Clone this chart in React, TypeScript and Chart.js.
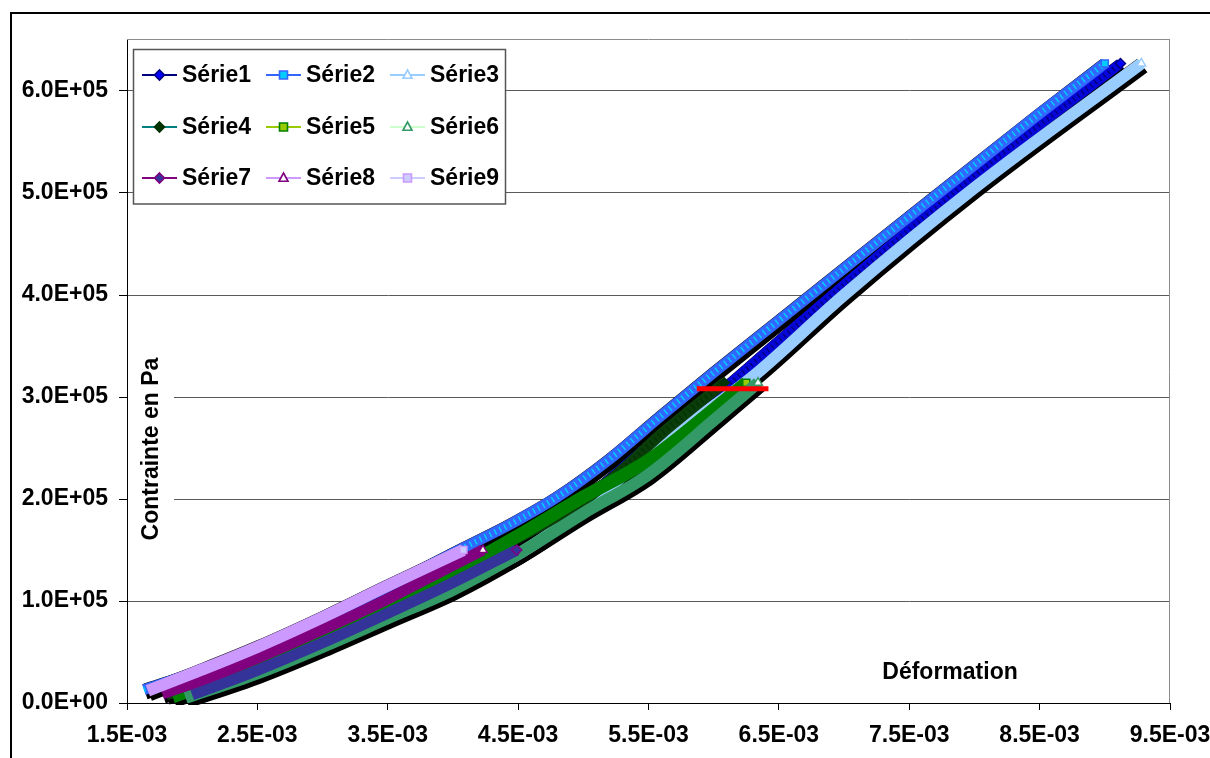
import React, { useEffect, useRef } from 'react';
import { Chart, registerables } from 'chart.js';

Chart.register(...registerables);

const FONT = '"Liberation Sans", Arial, sans-serif';

// ---------------- DATA ----------------
const seriesNames = ['Série1', 'Série2', 'Série3', 'Série4', 'Série5', 'Série6', 'Série7', 'Série8', 'Série9'];

const s1X = [1.8e-3, 2.5e-3, 3.0e-3, 3.5e-3, 4.0e-3, 4.5e-3, 5.0e-3, 5.5e-3, 6.0e-3, 6.5e-3, 7.0e-3, 8.0e-3, 9.12e-3];
const s1Y = [8e3, 4.0e4, 6.8e4, 9.8e4, 1.3e5, 1.62e5, 1.99e5, 2.52e5, 3.0e5, 3.55e5, 4.1e5, 5.17e5, 6.27e5];

const s2X = [1.63e-3, 2.0e-3, 2.5e-3, 3.0e-3, 3.5e-3, 4.08e-3, 4.45e-3, 4.8e-3, 5.2e-3, 5.6e-3, 6.0e-3, 6.5e-3, 7.5e-3, 8.5e-3, 9.0e-3];
const s2Y = [1.3e4, 2.9e4, 5.4e4, 8.3e4, 1.14e5, 1.52e5, 1.76e5, 2.02e5, 2.39e5, 2.82e5, 3.24e5, 3.75e5, 4.77e5, 5.78e5, 6.27e5];

const s3X = [1.95e-3, 2.5e-3, 3.0e-3, 3.5e-3, 4.0e-3, 4.5e-3, 5.0e-3, 5.25e-3, 5.5e-3, 5.9e-3, 6.3e-3, 7.0e-3, 8.0e-3, 9.28e-3];
const s3Y = [6e3, 3.2e4, 5.9e4, 8.7e4, 1.15e5, 1.46e5, 1.9e5, 2.17e5, 2.46e5, 2.82e5, 3.2e5, 4.0e5, 5.05e5, 6.27e5];

const s4X = [1.8e-3, 2.5e-3, 3.0e-3, 3.5e-3, 4.0e-3, 4.5e-3, 5.0e-3, 5.3e-3, 5.6e-3, 6.08e-3];
const s4Y = [8e3, 3.7e4, 6.5e4, 9.5e4, 1.29e5, 1.62e5, 1.98e5, 2.29e5, 2.64e5, 3.14e5];

const s5X = [1.85e-3, 2.5e-3, 3.0e-3, 3.5e-3, 4.0e-3, 4.5e-3, 5.0e-3, 5.5e-3, 6.0e-3, 6.25e-3];
const s5Y = [6e3, 3.6e4, 6.4e4, 9.4e4, 1.28e5, 1.64e5, 2.02e5, 2.38e5, 2.88e5, 3.14e5];

const s6X = [1.95e-3, 2.5e-3, 3.0e-3, 3.5e-3, 4.0e-3, 4.5e-3, 5.0e-3, 5.5e-3, 6.0e-3, 6.34e-3];
const s6Y = [5e3, 2.9e4, 5.5e4, 8.3e4, 1.11e5, 1.46e5, 1.86e5, 2.24e5, 2.77e5, 3.14e5];

const s7X = [2.0e-3, 2.5e-3, 3.0e-3, 3.5e-3, 4.0e-3, 4.49e-3];
const s7Y = [8e3, 3.2e4, 5.9e4, 8.8e4, 1.18e5, 1.5e5];

const s8X = [1.77e-3, 2.0e-3, 2.5e-3, 3.0e-3, 3.5e-3, 4.0e-3, 4.23e-3];
const s8Y = [9e3, 1.9e4, 4.4e4, 7.2e4, 1.02e5, 1.35e5, 1.5e5];

const s9X = [1.66e-3, 2.0e-3, 2.5e-3, 3.0e-3, 3.5e-3, 4.08e-3];
const s9Y = [1.2e4, 2.9e4, 5.5e4, 8.4e4, 1.15e5, 1.5e5];

const redLineX = [5.87e-3, 6.42e-3];
const redLineY = [3.08e5, 3.08e5];

const xTickValues = [1.5e-3, 2.5e-3, 3.5e-3, 4.5e-3, 5.5e-3, 6.5e-3, 7.5e-3, 8.5e-3, 9.5e-3];
const xTickLabels = ['1.5E-03', '2.5E-03', '3.5E-03', '4.5E-03', '5.5E-03', '6.5E-03', '7.5E-03', '8.5E-03', '9.5E-03'];
const yTickValues = [0, 1e5, 2e5, 3e5, 4e5, 5e5, 6e5];
const yTickLabels = ['0.0E+00', '1.0E+05', '2.0E+05', '3.0E+05', '4.0E+05', '5.0E+05', '6.0E+05'];

const xTitle = 'Déformation';
const yTitle = 'Contrainte en Pa';

// ---------------- STYLES ----------------
const seriesX = [s1X, s2X, s3X, s4X, s5X, s6X, s7X, s8X, s9X];
const seriesY = [s1Y, s2Y, s3Y, s4Y, s5Y, s6Y, s7Y, s8Y, s9Y];
const bandColors = ['#0606D8', '#3366FF', '#99CCFF', '#0A3D0A', '#008000', '#339966', '#333399', '#800080', '#CC99FF'];
const bandWidths = [10, 11, 12, 11, 13, 12, 11, 11, 12];
const hatchColors = ['#000080', '#00CCFF', null, '#003300', null, null, null, null, null];
const legendLineColors = ['#000080', '#3366FF', '#99CCFF', '#008080', '#99CC00', '#CCFFCC', '#800080', '#CC99FF', '#CCCCFF'];
const markerFill = ['#0000FF', '#00CCFF', '#FFFFFF', '#003300', '#99CC00', '#FFFFFF', '#333399', '#FFFFFF', '#CCCCFF'];
const markerStroke = ['#000080', '#3366FF', '#99CCFF', '#003300', '#008000', '#339966', '#800080', '#800080', '#CC99FF'];
const markerStyle = ['rectRot', 'rect', 'triangle', 'rectRot', 'rect', 'triangle', 'rectRot', 'triangle', 'rect'];

function drawMarker(ctx: CanvasRenderingContext2D, style: string, x: number, y: number, r: number, fill: string, stroke: string) {
  ctx.beginPath();
  if (style === 'rectRot') {
    ctx.moveTo(x, y - r); ctx.lineTo(x + r, y); ctx.lineTo(x, y + r); ctx.lineTo(x - r, y); ctx.closePath();
  } else if (style === 'rect') {
    const h = r * 0.8;
    ctx.rect(x - h, y - h, 2 * h, 2 * h);
  } else {
    ctx.moveTo(x, y - r); ctx.lineTo(x + r * 0.9, y + r * 0.65); ctx.lineTo(x - r * 0.9, y + r * 0.65); ctx.closePath();
  }
  ctx.fillStyle = fill; ctx.fill();
  ctx.strokeStyle = stroke; ctx.lineWidth = 1.6; ctx.stroke();
}

const decorPlugin = {
  id: 'decor',
  beforeDraw(chart: any) {
    const ctx = chart.ctx;
    ctx.save();
    ctx.fillStyle = '#fff';
    ctx.fillRect(0, 0, chart.width, chart.height);
    ctx.restore();
  },
  beforeDatasetDraw(chart: any, args: any) {
    const ds = chart.data.datasets[args.index];
    if (ds.isShadow) { chart.ctx.save(); chart.ctx.translate(1, 2); }
  },
  afterDatasetDraw(chart: any, args: any) {
    const ds = chart.data.datasets[args.index];
    if (ds.isShadow) chart.ctx.restore();
  },
  afterDraw(chart: any) {
    const ctx: CanvasRenderingContext2D = chart.ctx;
    const a = chart.chartArea;
    ctx.save();
    // outer frame
    ctx.strokeStyle = '#000'; ctx.lineWidth = 2;
    ctx.strokeRect(11, 13, 1500, 1000);
    // plot area top/right
    ctx.strokeStyle = '#8c8c8c'; ctx.lineWidth = 1;
    ctx.beginPath();
    ctx.moveTo(a.left, Math.round(a.top) - 0.5); ctx.lineTo(a.right, Math.round(a.top) - 0.5);
    ctx.moveTo(Math.round(a.right) - 0.5, a.top); ctx.lineTo(Math.round(a.right) - 0.5, a.bottom);
    ctx.stroke();

    ctx.font = `bold 23px ${FONT}`;
    // y title
    ctx.fillStyle = '#fff';
    ctx.fillRect(a.left + 1, 352, 46, 196);
    ctx.save();
    ctx.translate(152, 449);
    ctx.rotate(-Math.PI / 2);
    ctx.fillStyle = '#000';
    ctx.textAlign = 'center'; ctx.textBaseline = 'middle';
    ctx.fillText(yTitle, 0, 0);
    ctx.restore();
    // x title
    ctx.fillStyle = '#000';
    ctx.textAlign = 'center'; ctx.textBaseline = 'middle';
    ctx.fillText(xTitle, 950, 673);

    // legend
    const bx = 133.5, by = 49.5, bw = 372, bh = 154.5;
    ctx.fillStyle = '#fff';
    ctx.fillRect(bx, by, bw, bh);
    ctx.strokeStyle = '#555'; ctx.lineWidth = 1.5;
    ctx.strokeRect(bx, by, bw, bh);
    const colX = [142, 266, 390];
    const rowY = [75, 127, 178];
    for (let i = 0; i < seriesNames.length; i++) {
      const cx = colX[i % 3];
      const cy = rowY[Math.floor(i / 3)];
      ctx.strokeStyle = legendLineColors[i]; ctx.lineWidth = 2;
      ctx.beginPath(); ctx.moveTo(cx, cy); ctx.lineTo(cx + 35, cy); ctx.stroke();
      drawMarker(ctx, markerStyle[i], cx + 17.5, cy, 5, markerFill[i], markerStroke[i]);
      ctx.fillStyle = '#000';
      ctx.textAlign = 'left'; ctx.textBaseline = 'middle';
      ctx.font = `bold 23px ${FONT}`;
      ctx.fillText(seriesNames[i], cx + 40, cy + 1);
    }
    ctx.restore();
  },
};

export default function App() {
  const ref = useRef<HTMLCanvasElement>(null);
  useEffect(() => {
    document.body.style.margin = '0';
    const n = seriesNames.length;
    const seq: any[] = [];
    const pts = (i: number) => seriesX[i].map((x, k) => ({ x, y: seriesY[i][k] }));
    for (let i = 0; i < n; i++) {
      seq.push({
        label: seriesNames[i] + ' ombre',
        data: pts(i),
        isShadow: true,
        showLine: true,
        borderColor: '#000',
        borderWidth: bandWidths[i] + 5,
        pointRadius: 0,
        cubicInterpolationMode: 'monotone',
        borderCapStyle: 'butt',
        borderJoinStyle: 'round',
      });
    }
    for (let i = 0; i < n; i++) {
      const len = seriesX[i].length;
      seq.push({
        label: seriesNames[i],
        data: pts(i),
        showLine: true,
        borderColor: bandColors[i],
        borderWidth: bandWidths[i],
        cubicInterpolationMode: 'monotone',
        borderCapStyle: 'butt',
        borderJoinStyle: 'round',
        pointRadius: 0,
      });
      if (hatchColors[i]) {
        seq.push({
          label: seriesNames[i] + ' motif',
          data: pts(i),
          showLine: true,
          borderColor: hatchColors[i],
          borderWidth: Math.round(bandWidths[i] * 0.5),
          borderDash: [1.5, 4],
          cubicInterpolationMode: 'monotone',
          borderCapStyle: 'butt',
          pointRadius: 0,
        });
      }
      seq.push({
        label: seriesNames[i] + ' fin',
        data: pts(i),
        showLine: false,
        pointStyle: markerStyle[i],
        pointRadius: (c: any) => (c.dataIndex === len - 1 ? 5 : 0),
        pointBackgroundColor: markerFill[i],
        pointBorderColor: markerStroke[i],
        pointBorderWidth: 1.5,
      });
    }
    seq.push({
      label: 'rouge',
      data: redLineX.map((x, k) => ({ x, y: redLineY[k] })),
      showLine: true,
      borderColor: '#FF0000',
      borderWidth: 5,
      pointRadius: 0,
      borderCapStyle: 'butt',
    });
    seq.forEach((d, k) => { d.order = seq.length - k; });

    const chart = new Chart(ref.current as HTMLCanvasElement, {
      type: 'scatter',
      data: { datasets: seq },
      plugins: [decorPlugin],
      options: {
        responsive: false,
        animation: false,
        events: [],
        layout: { padding: { left: 0, right: 40, top: 40, bottom: 0 } },
        plugins: { legend: { display: false }, tooltip: { enabled: false }, title: { display: false } },
        scales: {
          x: {
            type: 'linear',
            min: 1.5e-3,
            max: 9.5e-3,
            afterBuildTicks: (s: any) => { s.ticks = xTickValues.map((v) => ({ value: v })); },
            afterFit: (s: any) => { s.height = 55; s.paddingLeft = 0; s.paddingRight = 0; },
            ticks: {
              callback: (_v: any, i: number) => xTickLabels[i],
              font: { family: FONT, size: 23, weight: 'bold' },
              color: '#000',
              padding: 12,
              maxRotation: 0,
              autoSkip: false,
            },
            grid: { drawOnChartArea: false, drawTicks: true, tickLength: 7, tickColor: '#000' },
            border: { color: '#000', width: 1 },
          },
          y: {
            type: 'linear',
            min: 0,
            max: 6.5e5,
            afterBuildTicks: (s: any) => { s.ticks = yTickValues.map((v) => ({ value: v })); },
            afterFit: (s: any) => { s.width = 127; s.paddingTop = 0; s.paddingBottom = 0; },
            ticks: {
              callback: (_v: any, i: number) => yTickLabels[i],
              font: { family: FONT, size: 23, weight: 'bold' },
              color: '#000',
              padding: 11,
              autoSkip: false,
            },
            grid: { color: '#5a5a5a', lineWidth: 1, drawTicks: true, tickLength: 8, tickColor: '#000' },
            border: { color: '#000', width: 1 },
          },
        },
      } as any,
    });
    return () => chart.destroy();
  }, []);
  return (
    <div style={{ position: 'absolute', left: 0, top: 0, width: 1210, height: 758, background: '#fff' }}>
      <canvas ref={ref} width={1210} height={758} style={{ display: 'block' }} />
    </div>
  );
}
